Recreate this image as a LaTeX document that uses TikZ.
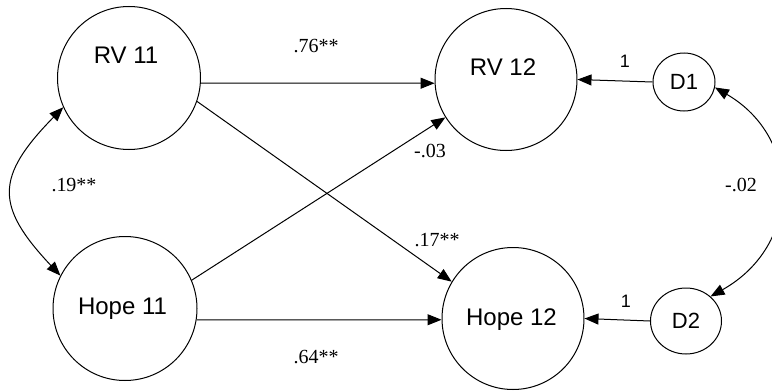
\documentclass[tikz,border=0pt]{standalone}
\usepackage{fontspec}
\setmainfont{Liberation Serif}
\newfontfamily\sansf{Liberation Sans}
\usetikzlibrary{arrows.meta,shapes.geometric}
\begin{document}
\begin{tikzpicture}[x=0.5pt,y=-0.5pt,line width=0.5pt,
  latent/.style={draw,circle,inner sep=0pt},
  nodetext/.style={font=\sansf\fontsize{12}{14}\selectfont,inner sep=0pt},
  dist/.style={draw,ellipse,inner sep=0pt,font=\sansf\fontsize{11}{13}\selectfont},
  coef/.style={font=\fontsize{10}{12}\selectfont,inner sep=0pt},
  fixed/.style={font=\sansf\fontsize{9}{11}\selectfont,inner sep=0pt},
  tip/.tip={Triangle[length=7pt,width=5.5pt]},
  effect/.style={-tip},
  cov/.style={tip-tip}]
\useasboundingbox (0,0) rectangle (772,391);

% latent variables
\node[latent,minimum size=71.5pt,
  label={[nodetext,xshift=-1.5pt,yshift=11.25pt]center:RV 11}] (rv11) at (129,78) {};
\node[latent,minimum size=72pt,
  label={[nodetext,xshift=-1.25pt,yshift=0pt]center:Hope 11}] (hope11) at (125,308.5) {};
\node[latent,minimum size=71pt,
  label={[nodetext,xshift=-1.5pt,yshift=6pt]center:RV 12}] (rv12) at (506,79.5) {};
\node[latent,minimum size=71pt,
  label={[nodetext,xshift=-0.75pt,yshift=-0.5pt]center:Hope 12}] (hope12) at (513,318.5) {};

% disturbances
\node[dist,minimum width=31pt,minimum height=29pt] (d1) at (684,82) {D1};
\node[dist,minimum width=35.5pt,minimum height=33pt] (d2) at (686,321) {D2};

% structural paths
\draw[effect] (rv11.-4.8) -- (rv12.183);
\draw[effect] (rv11.-19.4) -- (hope12.149.7);
\draw[effect] (hope11.23.7) -- (rv12.212.4);
\draw[effect] (hope11.-9.2) -- (hope12.181.2);
\draw[effect] (d1.west) -- (rv12.east);
\draw[effect] (d2.west) -- (hope12.east);

% covariances
\draw[cov] (hope11.153) .. controls (-5,206) and (-5,177) .. (rv11.204);
\draw[cov] (d1.-10) .. controls (802,138) and (802,245) .. (d2.45);

% coefficients
\node[coef] (c76) at (316,46) {.76**};
\node[coef] (c64) at (316,357) {.64**};
\node[coef] (c19) at (74,185) {.19**};
\node[coef] (c02) at (741,185) {-.02};
\node[coef] (c03) at (430,151) {-.03};
\node[coef] (c17) at (437,240) {.17**};
\node[fixed] (f1) at (625,61) {1};
\node[fixed] (f2) at (626,301) {1};
\end{tikzpicture}
\end{document}
